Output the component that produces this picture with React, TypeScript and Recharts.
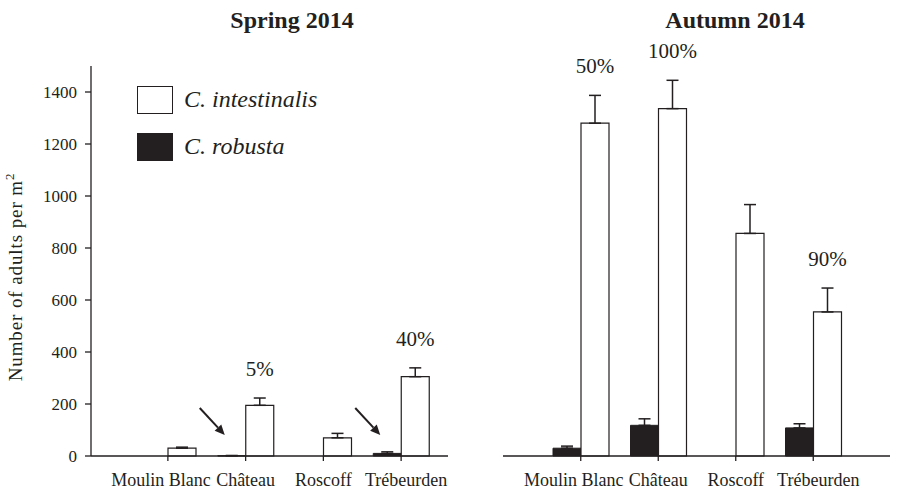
import React from 'react';
import { BarChart, Bar, XAxis, YAxis, ErrorBar, LabelList, Legend } from 'recharts';

const INK = '#231f20';
const FONT = '"Liberation Serif", "Times New Roman", serif';

const sites = ['Moulin Blanc', 'Château', 'Roscoff', 'Trébeurden'];
const yTicks = [0, 200, 400, 600, 800, 1000, 1200, 1400];

// Spring 2014
const springIntestinalis = [30, 195, 70, 305];
const springIntestinalisSe = [4, 28, 17, 34];
const springRobusta = [0, 1, 0, 10];
const springRobustaSe = [0, 1, 0, 6];
const springPct = ['', '5%', '', '40%'];
const springArrow = [false, true, false, true];

// Autumn 2014
const autumnIntestinalis = [1280, 1336, 856, 554];
const autumnIntestinalisSe = [107, 109, 111, 92];
const autumnRobusta = [30, 118, 0, 108];
const autumnRobustaSe = [8, 25, 0, 16];
const autumnPct = ['50%', '100%', '', '90%'];
const autumnArrow = [false, false, false, false];

const buildRows = (
  intest: number[], intestSe: number[], rob: number[], robSe: number[], pct: string[], arrow: boolean[]
) =>
  sites.map((site, i) => ({
    site,
    robusta: rob[i],
    robustaSe: [0, robSe[i]],
    intestinalis: intest[i],
    intestinalisSe: [0, intestSe[i]],
    pct: pct[i],
    arrow: arrow[i],
  }));

const springRows = buildRows(springIntestinalis, springIntestinalisSe, springRobusta, springRobustaSe, springPct, springArrow);
const autumnRows = buildRows(autumnIntestinalis, autumnIntestinalisSe, autumnRobusta, autumnRobustaSe, autumnPct, autumnArrow);

// percentage above the error bar of the white bar, plus an arrow at the black bar
// (the black bar sits just left of the white one, so it is drawn from here too)
const whiteBarLabel = (rows: any[]) => (props: any) => {
  const vb = props.viewBox ?? props;
  const row = rows[props.index];
  if (!row || !vb) return null;
  const parts: any[] = [];
  if (row.pct) {
    const ppu = vb.height / row.intestinalis;
    const errTop = vb.y - row.intestinalisSe[1] * ppu;
    parts.push(
      <text key="p" x={vb.x + vb.width / 2} y={errTop - 22} textAnchor="middle" fontSize={21} fill={INK} fontFamily={FONT}>
        {row.pct}
      </text>
    );
  }
  if (row.arrow) {
    const base = vb.y + vb.height;
    const tipX = vb.x - vb.width + 7;
    const tipY = base - 21;
    const dx = 25, dy = 27;
    const len = Math.sqrt(dx * dx + dy * dy);
    const ux = dx / len, uy = dy / len;
    const bx = tipX - ux * 10, by = tipY - uy * 10;
    const px = -uy * 4.5, py = ux * 4.5;
    parts.push(
      <g key="a">
        <line x1={tipX - dx} y1={tipY - dy} x2={bx} y2={by} stroke={INK} strokeWidth={2} />
        <polygon points={`${tipX},${tipY} ${bx + px},${by + py} ${bx - px},${by - py}`} fill={INK} />
      </g>
    );
  }
  return <g>{parts}</g>;
};

const legendContent = (props: any) => {
  const items = [...(props.payload || [])].sort((a: any, b: any) => String(a.value).localeCompare(String(b.value)));
  return (
    <div style={{ fontFamily: FONT }}>
      {items.map((it: any) => (
        <div key={it.value} style={{ display: 'flex', alignItems: 'center', height: 47 }}>
          <span style={{ display: 'inline-block', width: 34, height: 26, background: it.color, border: `1.2px solid ${INK}` }} />
          <span style={{ marginLeft: 11, fontStyle: 'italic', fontSize: 24, color: INK }}>{it.value}</span>
        </div>
      ))}
    </div>
  );
};

const YTitle = () => (
  <text
    x={22}
    y={277}
    transform="rotate(-90, 22, 277)"
    textAnchor="middle"
    fontSize={19}
    letterSpacing={0.9}
    fill={INK}
    fontFamily={FONT}
  >
    Number of adults per m<tspan dy={-8} fontSize={13}>2</tspan>
  </text>
);

// outer site names are pushed outward a little so they don't run into each other
const tickNudge = [-7, 0, 0, 5];

const SiteTick = (props: any) => {
  const { x, y, payload, index } = props;
  return (
    <text x={x + (tickNudge[index] ?? 0)} y={y} dy="0.71em" textAnchor="middle" fontSize={18} fill={INK} fontFamily={FONT}>
      {payload.value}
    </text>
  );
};

const yTickStyle = { fontSize: 17, fill: INK, fontFamily: FONT };

const Panel = ({ rows, left, width, margin, showY, legend }: any) => (
  <div style={{ position: 'absolute', left, top: 0 }}>
    <BarChart width={width} height={491} data={rows} margin={margin} barGap={0} barSize={28}>
      <XAxis
        dataKey="site"
        padding={showY ? { left: 38, right: 8 } : { left: 39, right: 38 }}
        height={30}
        tickSize={5}
        tickMargin={12}
        tick={<SiteTick />}
        axisLine={{ stroke: INK, strokeWidth: 1.3 }}
        tickLine={{ stroke: INK, strokeWidth: 1.3 }}
        interval={0}
      />
      <YAxis
        hide={!showY}
        width={91}
        domain={[0, 1500]}
        ticks={yTicks}
        tickSize={6}
        tickMargin={8}
        tick={yTickStyle}
        axisLine={{ stroke: INK, strokeWidth: 1.3 }}
        tickLine={{ stroke: INK, strokeWidth: 1.3 }}
        label={showY ? <YTitle /> : undefined}
      />
      {legend && (
        <Legend
          layout="horizontal"
          verticalAlign="middle"
          align="center"
          content={legendContent}
          wrapperStyle={{ top: 76, left: 137, width: 'auto' }}
        />
      )}
      <Bar dataKey="robusta" name="C. robusta" fill={INK} stroke={INK} strokeWidth={1} isAnimationActive={false}>
        <ErrorBar dataKey="robustaSe" width={6} stroke={INK} strokeWidth={1.5} />
      </Bar>
      <Bar dataKey="intestinalis" name="C. intestinalis" fill="#ffffff" stroke={INK} strokeWidth={1.2} isAnimationActive={false}>
        <ErrorBar dataKey="intestinalisSe" width={6} stroke={INK} strokeWidth={1.5} />
        <LabelList dataKey="intestinalis" content={whiteBarLabel(rows)} />
      </Bar>
    </BarChart>
  </div>
);

const titleStyle: React.CSSProperties = {
  position: 'absolute',
  top: 8,
  fontFamily: FONT,
  fontWeight: 'bold',
  fontSize: 24,
  lineHeight: '24px',
  color: INK,
  transform: 'translateX(-50%)',
  whiteSpace: 'nowrap',
};

export default function App() {
  return (
    <div style={{ position: 'absolute', left: 0, top: 0, width: 898, height: 491, background: '#fff', fontFamily: FONT }}>
      <Panel rows={springRows} left={0} width={460} margin={{ top: 66, right: 12, bottom: 5, left: 0 }} showY legend />
      <Panel rows={autumnRows} left={460} width={438} margin={{ top: 66, right: 8, bottom: 5, left: 43 }} showY={false} legend={false} />
      <div style={{ ...titleStyle, left: 292 }}>Spring 2014</div>
      <div style={{ ...titleStyle, left: 735 }}>Autumn 2014</div>
    </div>
  );
}
